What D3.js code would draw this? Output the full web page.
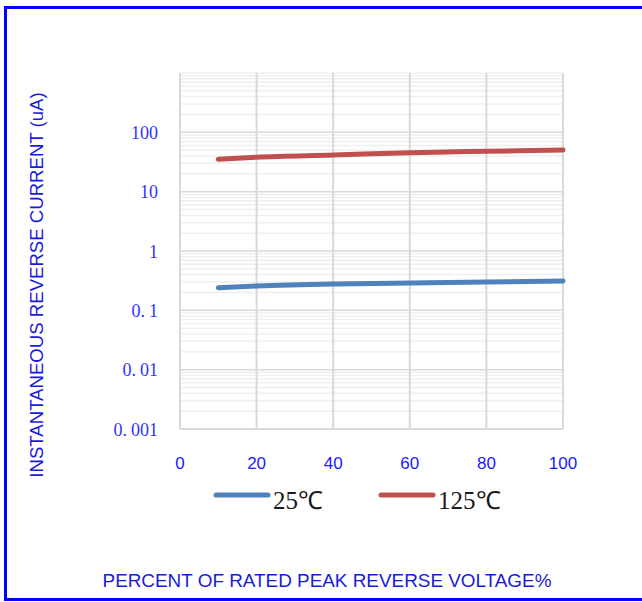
<!DOCTYPE html>
<html>
<head>
<meta charset="utf-8">
<script src="https://cdn.jsdelivr.net/npm/d3@7"></script>
<style>
  html, body { margin: 0; padding: 0; background: #fff; }
  svg { display: block; }
</style>
</head>
<body>
<svg id="chart" width="642" height="602"></svg>
<script>
// ---- data ----
const voltagePct = [10, 20, 40, 60, 80, 100];
const current25 = [0.241, 0.257, 0.278, 0.289, 0.300, 0.312];
const current125 = [35.2, 38.2, 41.5, 45.4, 47.9, 50.4];
const seriesNames = ["25\u2103", "125\u2103"];
const xTicks = [0, 20, 40, 60, 80, 100];
const yTicks = [0.001, 0.01, 0.1, 1, 10, 100];
const yTickLabels = ["0.001", "0.01", "0.1", "1", "10", "100"];
const yTitle = "INSTANTANEOUS REVERSE CURRENT (uA)";
const xTitle = "PERCENT OF RATED PEAK REVERSE VOLTAGE%";

const svg = d3.select("#chart");

// frame
svg.append("rect").attr("x", 5.5).attr("y", 7.5).attr("width", 700).attr("height", 592)
  .attr("fill", "#fff").attr("stroke", "#0000ff").attr("stroke-width", 3);

const x = d3.scaleLinear().domain([0, 100]).range([180, 563]);
const y = d3.scaleLog().domain([0.001, 1000]).range([429, 73]);

// minor gridlines
const minor = [];
for (let e = -3; e < 3; e++) {
  for (let m = 2; m <= 9; m++) minor.push(m * Math.pow(10, e));
}
minor.push(1000);
svg.append("g").selectAll("line").data(minor).join("line")
  .attr("x1", x(0)).attr("x2", x(100))
  .attr("y1", d => y(d)).attr("y2", d => y(d))
  .attr("stroke", "#efefef").attr("stroke-width", 1.5);

// major horizontal gridlines
svg.append("g").selectAll("line").data(yTicks.slice(1)).join("line")
  .attr("x1", x(0)).attr("x2", x(100))
  .attr("y1", d => y(d)).attr("y2", d => y(d))
  .attr("stroke", "#d9d9d9").attr("stroke-width", 1.5);

// vertical gridlines
svg.append("g").selectAll("line").data(xTicks).join("line")
  .attr("x1", d => x(d)).attr("x2", d => x(d))
  .attr("y1", y(1000)).attr("y2", y(0.001))
  .attr("stroke", "#d9d9d9").attr("stroke-width", 2);

// bottom axis line
svg.append("line").attr("x1", x(0)).attr("x2", x(100))
  .attr("y1", y(0.001)).attr("y2", y(0.001))
  .attr("stroke", "#d9d9d9").attr("stroke-width", 2);

// y tick labels
const yl = svg.append("g").selectAll("text").data(yTicks).join("text")
  .attr("x", 158).attr("y", d => y(d) + 6.5)
  .attr("text-anchor", "end")
  .attr("font-family", "'Liberation Serif', 'Times New Roman', serif")
  .attr("font-size", 18).attr("fill", "#3333ff");
yl.each(function(d, i) {
  const t = d3.select(this);
  const s = yTickLabels[i];
  const dot = s.indexOf(".");
  if (dot < 0) { t.text(s); }
  else {
    t.append("tspan").text(s.slice(0, dot + 1));
    t.append("tspan").attr("dx", 4).text(s.slice(dot + 1));
  }
});

// x tick labels
svg.append("g").selectAll("text").data(xTicks).join("text")
  .attr("x", d => x(d)).attr("y", 469)
  .attr("text-anchor", "middle")
  .attr("font-family", "'Liberation Sans', Arial, sans-serif")
  .attr("font-size", 17).attr("fill", "#1a1aff")
  .text(d => d);

// series lines
const line = d3.line().x(d => x(d[0])).y(d => y(d[1])).curve(d3.curveMonotoneX);
const series = [
  { name: seriesNames[0], values: current25, color: "#4f81bd" },
  { name: seriesNames[1], values: current125, color: "#c0504d" }
];
svg.append("g").selectAll("path").data(series).join("path")
  .attr("d", s => line(voltagePct.map((v, i) => [v, s.values[i]])))
  .attr("fill", "none").attr("stroke", s => s.color)
  .attr("stroke-width", 5).attr("stroke-linecap", "round");

// legend
const legendX = [216, 381];
const lg = svg.append("g").selectAll("g").data(series).join("g")
  .attr("transform", (s, i) => `translate(${legendX[i]},495)`);
lg.append("line").attr("x1", 0).attr("x2", 52).attr("y1", 0).attr("y2", 0)
  .attr("stroke", s => s.color).attr("stroke-width", 5).attr("stroke-linecap", "round");
lg.append("text").attr("x", 57).attr("y", 14)
  .attr("font-family", "'Liberation Serif', 'Times New Roman', serif")
  .attr("font-size", 25).attr("fill", "#1a1a1a")
  .text(s => s.name);

// axis titles
svg.append("text")
  .attr("transform", `translate(43,285) rotate(-90)`)
  .attr("text-anchor", "middle")
  .attr("font-family", "'Liberation Sans', Arial, sans-serif")
  .attr("font-size", 18.6).attr("fill", "#1a1adc")
  .text(yTitle);

svg.append("text")
  .attr("x", 327).attr("y", 587)
  .attr("text-anchor", "middle")
  .attr("font-family", "'Liberation Sans', Arial, sans-serif")
  .attr("font-size", 18.9).attr("fill", "#1a1adc")
  .text(xTitle);
</script>
</body>
</html>
